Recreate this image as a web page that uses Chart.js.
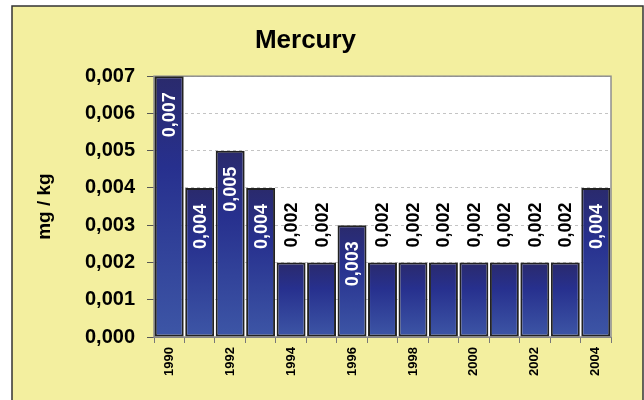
<!DOCTYPE html>
<html>
<head>
<meta charset="utf-8">
<script src="https://cdn.jsdelivr.net/npm/chart.js@4"></script>
<style>
  html, body { margin: 0; padding: 0; background: #ffffff; }
  #box { width: 644px; height: 400px; }
</style>
</head>
<body>
<div id="box"><canvas id="mainGraph"></canvas></div>
<script>
var ctx = document.getElementById('mainGraph').getContext('2d');

const years = ["1990","1991","1992","1993","1994","1995","1996","1997","1998","1999","2000","2001","2002","2003","2004"];
const mercury = [0.007,0.004,0.005,0.004,0.002,0.002,0.003,0.002,0.002,0.002,0.002,0.002,0.002,0.002,0.004];
const yTicks = [0,0.001,0.002,0.003,0.004,0.005,0.006,0.007];

const FONT = "'Liberation Sans', Arial, sans-serif";

function comma(v) {
  return v.toFixed(3).replace('.', ',');
}

// yellow frame, white plot area
const backdrop = {
  id: 'backdrop',
  beforeDraw(chart) {
    const c = chart.ctx, a = chart.chartArea;
    c.save();
    c.fillStyle = '#ffffff';
    c.fillRect(0, 0, chart.width, chart.height);
    c.fillStyle = '#f3ef9f';
    c.fillRect(12, 6, 631, chart.height);
    c.strokeStyle = '#333333';
    c.lineWidth = 1.5;
    c.strokeRect(12, 6, 631, chart.height + 10);
    c.fillStyle = '#ffffff';
    c.fillRect(a.left, a.top, a.right - a.left, a.bottom - a.top);
    c.restore();
  },
  beforeDatasetsDraw(chart) {
    const c = chart.ctx, a = chart.chartArea;
    c.save();
    c.strokeStyle = '#8f8f8f';
    c.lineWidth = 1.5;
    c.strokeRect(a.left, a.top, a.right - a.left, a.bottom - a.top);
    c.restore();
  }
};

// vertical value labels: white inside tall bars, black above short ones
const valueLabels = {
  id: 'valueLabels',
  afterDatasetsDraw(chart) {
    const c = chart.ctx;
    const meta = chart.getDatasetMeta(0);
    c.save();
    c.font = 'bold 18px ' + FONT;
    c.textBaseline = 'middle';
    meta.data.forEach(function(bar, i) {
      const v = mercury[i];
      c.save();
      if (v >= 0.003) {
        c.translate(bar.x, bar.y + 16);
        c.rotate(-Math.PI / 2);
        c.textAlign = 'right';
        c.fillStyle = '#ffffff';
      } else {
        c.translate(bar.x, bar.y - 15);
        c.rotate(-Math.PI / 2);
        c.textAlign = 'left';
        c.fillStyle = '#000000';
      }
      c.fillText(comma(v), 0, 1);
      c.restore();
    });
    c.restore();
  }
};

function barFill(context) {
  const chart = context.chart;
  if (!chart.chartArea) return '#2c3a92';
  const y = chart.scales.y;
  const top = y.getPixelForValue(context.raw);
  const bottom = y.getPixelForValue(0);
  const g = chart.ctx.createLinearGradient(0, top, 0, bottom);
  g.addColorStop(0, '#2a2a6c');
  g.addColorStop(0.35, '#27308e');
  g.addColorStop(1, '#3d56a6');
  return g;
}

var chart = new Chart(ctx, {
  type: 'bar',
  data: {
    labels: years,
    datasets: [{
      label: 'Mercury',
      data: mercury,
      backgroundColor: barFill,
      borderColor: '#222222',
      borderWidth: 2,
      borderSkipped: false,
      barPercentage: 1,
      categoryPercentage: 0.95
    }]
  },
  options: {
    responsive: true,
    maintainAspectRatio: false,
    animation: false,
    layout: { padding: { left: 0, right: 33, top: 0, bottom: 0 } },
    plugins: {
      legend: { display: false },
      tooltip: { enabled: false },
      title: {
        display: true,
        text: 'Mercury',
        color: '#000000',
        font: { family: FONT, size: 26, weight: 'bold' },
        padding: { top: 25, bottom: 20 }
      }
    },
    scales: {
      x: {
        afterFit(scale) { scale.height = 63; },
        grid: {
          offset: true,
          drawOnChartArea: false,
          tickLength: 6,
          tickColor: '#777777'
        },
        border: { color: '#777777' },
        ticks: {
          autoSkip: false,
          minRotation: 90,
          maxRotation: 90,
          padding: 4,
          color: '#000000',
          font: { family: FONT, size: 13, weight: 'bold' },
          callback: function(val, i) { return i % 2 === 0 ? years[i] : ''; }
        }
      },
      y: {
        min: 0,
        max: 0.007,
        afterFit(scale) { scale.width = 154; },
        afterBuildTicks(scale) { scale.ticks = yTicks.map(v => ({ value: v })); },
        grid: {
          color: '#c4c4c4',
          tickColor: '#555555',
          tickLength: 7
        },
        border: { color: '#777777', dash: [3, 3] },
        ticks: {
          padding: 12,
          color: '#000000',
          font: { family: FONT, size: 20, weight: 'bold' },
          callback: function(v) { return comma(v); }
        },
        title: {
          display: true,
          text: 'mg / kg',
          color: '#000000',
          font: { family: FONT, size: 19, weight: 'bold' },
          padding: { top: 33, bottom: 0 }
        }
      }
    }
  },
  plugins: [backdrop, valueLabels]
});
</script>
</body>
</html>
